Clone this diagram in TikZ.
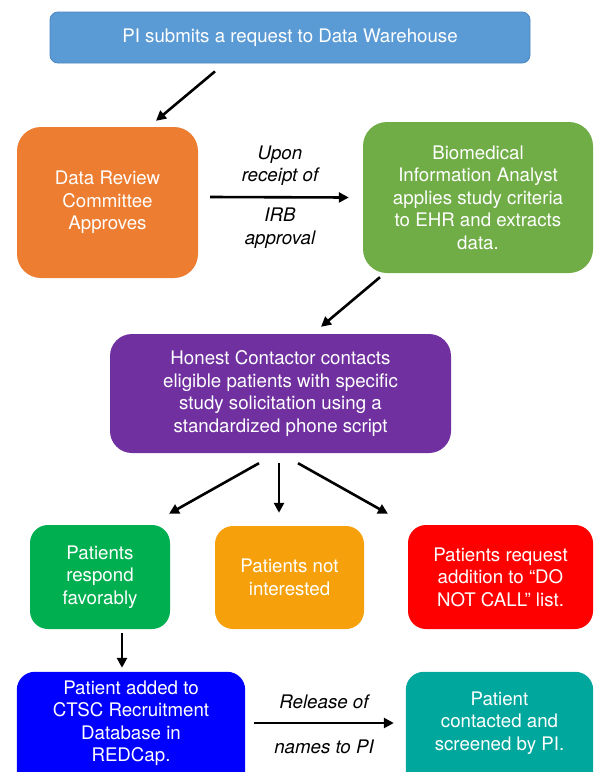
\documentclass[tikz,border=0pt]{standalone}
\usepackage{fontspec}
\setmainfont{TeX Gyre Heros}
\usetikzlibrary{arrows.meta}
\definecolor{cTop}{HTML}{5B9BD5}
\definecolor{cTopB}{HTML}{4A85C0}
\definecolor{cOrange}{HTML}{ED7D31}
\definecolor{cGreen}{HTML}{70AD47}
\definecolor{cPurple}{HTML}{7030A0}
\definecolor{cGreenB}{HTML}{00B050}
\definecolor{cAmber}{HTML}{F6A10B}
\definecolor{cRed}{HTML}{FF0000}
\definecolor{cBlue}{HTML}{0000FF}
\definecolor{cTeal}{HTML}{00A79D}
\tikzset{
  box/.style={rectangle, text=white, align=center, inner sep=0pt,
    font=\fontsize{18.7}{22.5}\selectfont},
  lbl/.style={align=center, inner sep=0pt, text=black,
    font=\fontsize{18.7}{22.5}\selectfont\itshape},
  arr/.style={line width=2.6pt, -{Triangle[length=10pt,width=10pt]}},
}
\begin{document}
\begin{tikzpicture}[x=1pt,y=-1pt]
\useasboundingbox (0,0) rectangle (594,772);
\clip (0,0) rectangle (594,772);
\node[box, fill=cTop, draw=cTopB, line width=0.8pt, rounded corners=8pt,
  minimum width=480pt, minimum height=51pt] (top) at (290,37.5)
  {PI submits a request to Data Warehouse};
\node[box, fill=cOrange, rounded corners=24pt, minimum width=181pt, minimum height=151pt]
  (drc) at (107.5,202.5) {Data Review\\Committee\\Approves};
\node[box, fill=cGreen, rounded corners=24pt, minimum width=230pt, minimum height=151pt]
  (bia) at (478,197.5) {Biomedical\\Information Analyst\\applies study criteria\\to EHR and extracts\\data.};
\node[box, fill=cPurple, rounded corners=22pt, minimum width=341pt, minimum height=119pt]
  (hc) at (280.5,393.5) {Honest Contactor contacts\\eligible patients with specific\\study solicitation using a\\standardized phone script};
\node[box, fill=cGreenB, rounded corners=18pt, minimum width=140pt, minimum height=104pt]
  (fav) at (100,577) {Patients\\respond\\favorably};
\node[box, fill=cAmber, rounded corners=18pt, minimum width=149pt, minimum height=103pt]
  (noti) at (289.5,577.5) {Patients not\\interested};
\node[box, fill=cRed, rounded corners=18pt, minimum width=185pt, minimum height=104pt]
  (dnc) at (500.5,577) {Patients request\\addition to “DO\\NOT CALL” list.};
\node[box, minimum width=228pt, minimum height=102pt] (db) at (131,723)
  {\phantom{X}};
\fill[cBlue, rounded corners=18pt] (db.north west) rectangle ([yshift=-40pt]db.south east);
\node[box] at (db.center) {Patient added to\\CTSC Recruitment\\Database in\\REDCap.};
\node[box, minimum width=187pt, minimum height=102pt] (scr) at (499.5,723) {\phantom{X}};
\fill[cTeal, rounded corners=18pt] (scr.north west) rectangle ([yshift=-40pt]scr.south east);
\node[box] at (scr.center) {Patient\\contacted and\\screened by PI.};
\node[lbl] (l1) at (280,165.5) {Upon\\receipt of};
\node[lbl] (l2) at (280,228) {IRB\\approval};
\node[lbl] (l3) at (324,702) {Release of};
\node[lbl] (l4) at (324,747) {names to PI};
\draw[arr] ([xshift=-75pt,yshift=-8pt]top.south) -- ([xshift=48.5pt,yshift=6pt]drc.north);
\draw[arr] ([xshift=12pt,yshift=5.5pt]drc.east) -- ([xshift=-14pt]bia.west);
\draw[arr] ([xshift=-98pt,yshift=-4pt]bia.south) -- ([xshift=40.5pt,yshift=7pt]hc.north);
\draw[arr] ([xshift=-21.5pt,yshift=-10pt]hc.south) -- ([xshift=69pt,yshift=11pt]fav.north);
\draw[arr] ([xshift=-1.5pt,yshift=-10pt]hc.south) -- ([xshift=-10.5pt,yshift=13pt]noti.north);
\draw[arr] ([xshift=17.5pt,yshift=-10pt]hc.south) -- ([xshift=-112.5pt,yshift=11pt]dnc.north);
\draw[arr] ([xshift=22pt,yshift=-4pt]fav.south) -- ([xshift=-9pt,yshift=4pt]db.north);
\draw[arr] ([xshift=9pt]db.east) -- ([xshift=-12pt]scr.west);
\end{tikzpicture}
\end{document}
